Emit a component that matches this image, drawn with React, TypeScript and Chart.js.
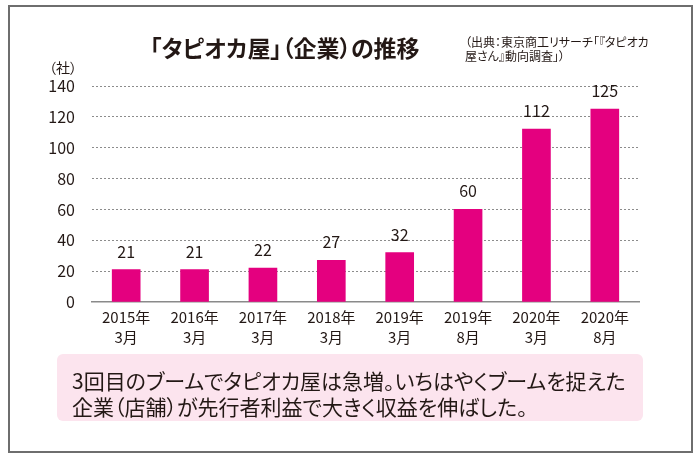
import React, { useEffect, useRef } from "react";
import { Chart, registerables } from "chart.js";

Chart.register(...registerables);

const categories: string[][] = [
  ["2015年", "3月"],
  ["2016年", "3月"],
  ["2017年", "3月"],
  ["2018年", "3月"],
  ["2019年", "3月"],
  ["2019年", "8月"],
  ["2020年", "3月"],
  ["2020年", "8月"],
];
const companies: number[] = [21, 21, 22, 27, 32, 60, 112, 125];
const yMax = 140;
const yStep = 20;

const TITLE = "「タピオカ屋」（企業）の推移";
const SOURCE_LINES = ["（出典：東京商工リサーチ「『タピオカ", "屋さん』動向調査」）"];
const UNIT = "（社）";
const NOTE_LINES = [
  "3回目のブームでタピオカ屋は急増。いちはやくブームを捉えた",
  "企業（店舗）が先行者利益で大きく収益を伸ばした。",
];

const FONT = '"Noto Sans CJK JP", "Noto Sans", sans-serif';
const INK = "#231815";
const BAR = "#e4007f";

const valueLabels = {
  id: "valueLabels",
  afterDatasetsDraw(chart: any) {
    const ctx = chart.ctx;
    const meta = chart.getDatasetMeta(0);
    ctx.save();
    ctx.font = `16px ${FONT}`;
    ctx.fillStyle = INK;
    ctx.textAlign = "center";
    ctx.textBaseline = "alphabetic";
    meta.data.forEach((el: any, i: number) => {
      ctx.fillText(String(chart.data.datasets[0].data[i]), el.x, el.y - 12);
    });
    ctx.restore();
  },
};

export default function App() {
  const ref = useRef<HTMLCanvasElement | null>(null);

  useEffect(() => {
    if (!ref.current) return;
    const chart = new Chart(ref.current, {
      type: "bar",
      data: {
        labels: categories,
        datasets: [
          {
            data: companies,
            backgroundColor: BAR,
            borderWidth: 0,
            barThickness: 28,
          },
        ],
      },
      options: {
        animation: false,
        responsive: false,
        maintainAspectRatio: false,
        layout: { padding: { left: 0, right: 61, top: 86, bottom: 105 } },
        plugins: {
          legend: { display: false },
          tooltip: { enabled: false },
          title: { display: false },
        },
        scales: {
          x: {
            grid: { display: false, drawTicks: false },
            border: { display: true, color: "#8a8a8a", width: 1.5 },
            ticks: {
              color: INK,
              font: { family: FONT, size: 15, lineHeight: 1.33 },
              padding: 5,
              maxRotation: 0,
              autoSkip: false,
            },
            afterFit: (scale: any) => {
              scale.height = 50;
            },
          },
          y: {
            min: 0,
            max: yMax,
            grid: {
              drawTicks: false,
              color: (c: any) => (c.tick && c.tick.value === 0 ? "rgba(0,0,0,0)" : "#8c8c8c"),
              lineWidth: 1,
            },
            border: { display: false, dash: [2, 2] },
            ticks: {
              stepSize: yStep,
              color: INK,
              font: { family: FONT, size: 16 },
              padding: 17,
            },
            afterFit: (scale: any) => {
              scale.width = 92;
            },
          },
        },
      },
      plugins: [valueLabels],
    });
    return () => chart.destroy();
  }, []);

  return (
    <div
      style={{
        position: "absolute",
        left: 0,
        top: 0,
        width: 700,
        height: 457,
        background: "#fff",
        fontFamily: FONT,
        color: INK,
        overflow: "hidden",
      }}
    >
      <div
        style={{
          position: "absolute",
          left: 8,
          top: 5,
          width: 681,
          height: 444,
          border: "2px solid #6e6e6e",
          boxSizing: "content-box",
        }}
      />
      <canvas ref={ref} width={700} height={457} style={{ position: "absolute", left: 0, top: 0, width: 700, height: 457 }} />
      <div
        style={{
          position: "absolute",
          left: 150,
          top: 32,
          fontSize: 23,
          fontWeight: 700,
          lineHeight: "31px",
          whiteSpace: "nowrap",
          fontFeatureSettings: '"palt"',
        }}
      >
        {TITLE}
      </div>
      <div
        style={{
          position: "absolute",
          left: 465,
          top: 35,
          fontSize: 12,
          lineHeight: "14px",
          whiteSpace: "nowrap",
          fontFeatureSettings: '"palt"',
        }}
      >
        {SOURCE_LINES.map((l, i) => (
          <div key={i}>{l}</div>
        ))}
      </div>
      <div
        style={{
          position: "absolute",
          left: 49,
          top: 57,
          fontSize: 14,
          lineHeight: "20px",
          whiteSpace: "nowrap",
          fontFeatureSettings: '"palt"',
        }}
      >
        {UNIT}
      </div>
      <div
        style={{
          position: "absolute",
          left: 57,
          top: 354,
          width: 586,
          height: 67,
          background: "#fce4ee",
          borderRadius: 6,
          boxSizing: "border-box",
          padding: "13px 0 0 15px",
          fontSize: 21,
          lineHeight: "26px",
          whiteSpace: "nowrap",
          fontFeatureSettings: '"palt"',
        }}
      >
        {NOTE_LINES.map((l, i) => (
          <div key={i}>{l}</div>
        ))}
      </div>
    </div>
  );
}
